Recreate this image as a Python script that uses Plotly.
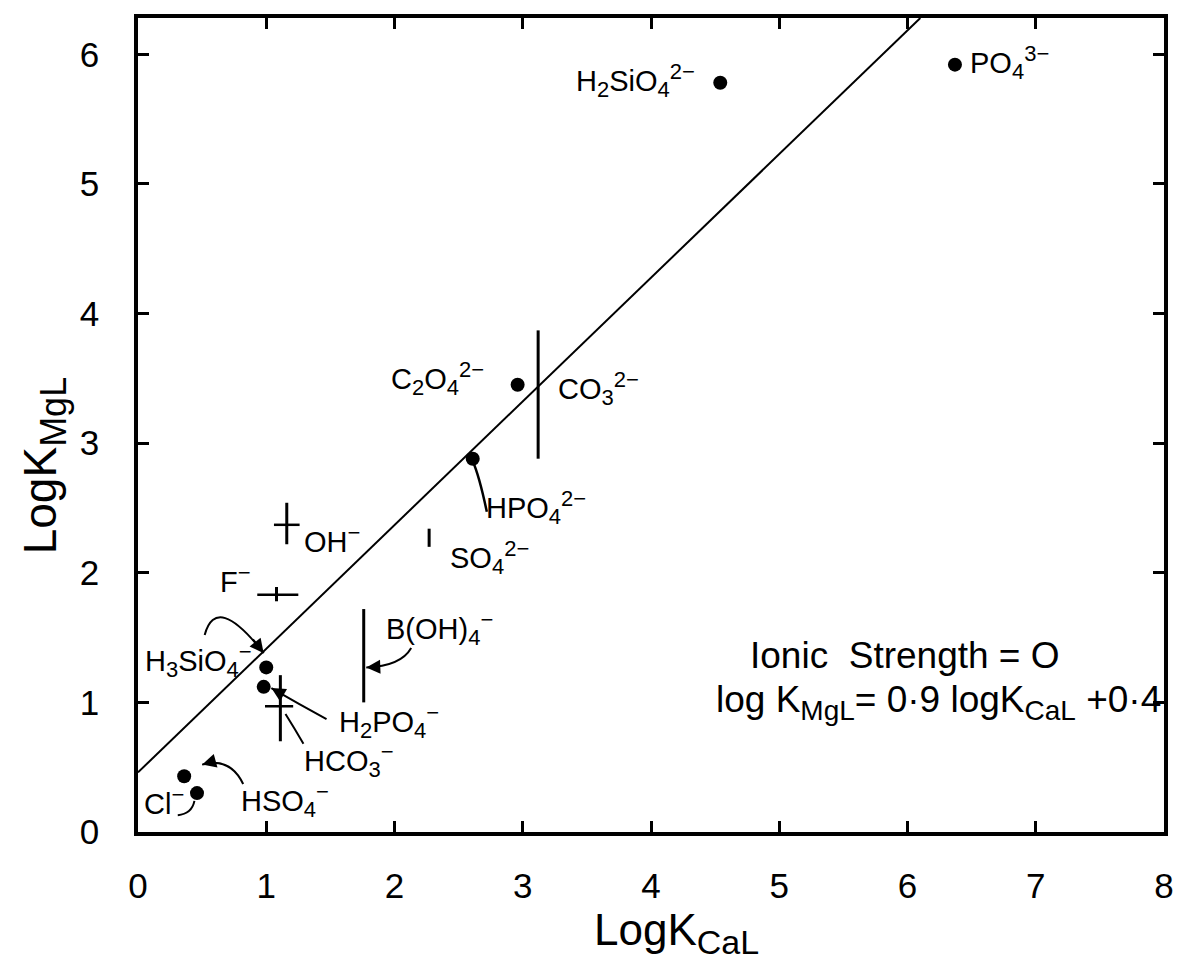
import plotly.graph_objects as go

# ---- data ----
dot_labels = ["H2SiO4", "PO4", "C2O4", "HPO4", "H3SiO4", "H2PO4", "HSO4", "Cl"]
dot_x = [4.54, 6.37, 2.96, 2.61, 1.00, 0.98, 0.36, 0.46]
dot_y = [5.78, 5.92, 3.45, 2.88, 1.27, 1.12, 0.43, 0.30]

rng_labels = ["CO3", "OH", "F", "SO4", "B(OH)4", "HCO3"]
rng_xc = [3.12, 1.16, 1.08, 2.27, 1.76, 1.11]
rng_xlo = [3.12, 1.06, 0.93, 2.27, 1.76, 0.99]
rng_xhi = [3.12, 1.26, 1.25, 2.27, 1.76, 1.21]
rng_yc = [3.38, 2.37, 1.83, 2.27, 1.36, 0.97]
rng_ylo = [2.88, 2.22, 1.78, 2.20, 1.00, 0.70]
rng_yhi = [3.87, 2.54, 1.89, 2.34, 1.72, 1.21]

fit_x = [0.0, 6.10]
fit_y = [0.46, 6.28]


def sb(s, size=22):
    return f"<sub><span style='font-size:{size}px'>{s}</span></sub>"


def sp(s, size=22):
    return f"<sup><span style='font-size:{size}px'>{s}</span></sup>"


lab_text = [
    "H" + sb("2") + "SiO" + sb("4") + sp("2−"),
    "PO" + sb("4") + sp("3−"),
    "C" + sb("2") + "O" + sb("4") + sp("2−"),
    "CO" + sb("3") + sp("2−"),
    "HPO" + sb("4") + sp("2−"),
    "SO" + sb("4") + sp("2−"),
    "OH" + sp("−"),
    "F" + sp("−"),
    "H" + sb("3") + "SiO" + sb("4") + sp("−"),
    "B(OH)" + sb("4") + sp("−"),
    "H" + sb("2") + "PO" + sb("4") + sp("−"),
    "HCO" + sb("3") + sp("−"),
    "HSO" + sb("4") + sp("−"),
    "Cl" + sp("−"),
]
lab_x = [4.36, 6.47, 2.71, 3.26, 2.70, 2.42, 1.28, 0.90, 0.04, 1.92, 1.55, 1.28, 0.79, 0.03]
lab_y = [5.80, 5.94, 3.50, 3.42, 2.50, 2.12, 2.26, 1.95, 1.32, 1.57, 0.85, 0.55, 0.24, 0.24]
lab_anchor = ["right", "left", "right", "left", "left", "left", "left", "right",
              "left", "left", "left", "left", "left", "left"]

# connectors: start, control, end, arrowhead?
con_x0 = [2.72, 0.52, 1.47, 1.29, 2.13, 0.82, 0.31]
con_y0 = [2.47, 1.52, 0.87, 0.68, 1.42, 0.37, 0.13]
con_cx = [2.66, 0.61, 1.25, 1.22, 2.05, 0.72, 0.42]
con_cy = [2.75, 1.85, 0.99, 0.80, 1.28, 0.58, 0.14]
con_x1 = [2.61, 0.98, 1.04, 1.15, 1.78, 0.50, 0.44]
con_y1 = [2.86, 1.38, 1.11, 0.91, 1.27, 0.52, 0.24]
con_arrow = [False, True, True, True, True, True, False]

x_ticks = [0, 1, 2, 3, 4, 5, 6, 7, 8]
y_ticks = [0, 1, 2, 3, 4, 5, 6]

FONT = "Liberation Sans"

fig = go.Figure()

fig.add_trace(go.Scatter(x=fit_x, y=fit_y, mode="lines",
                         line=dict(color="black", width=2), hoverinfo="skip"))

# range bars
vx, vy, hx, hy = [], [], [], []
for i in range(len(rng_labels)):
    if rng_yhi[i] > rng_ylo[i]:
        vx += [rng_xc[i], rng_xc[i], None]
        vy += [rng_ylo[i], rng_yhi[i], None]
    if rng_xhi[i] > rng_xlo[i]:
        hx += [rng_xlo[i], rng_xhi[i], None]
        hy += [rng_yc[i], rng_yc[i], None]
fig.add_trace(go.Scatter(x=vx, y=vy, mode="lines", line=dict(color="black", width=3),
                         hoverinfo="skip"))
fig.add_trace(go.Scatter(x=hx, y=hy, mode="lines", line=dict(color="black", width=2.5),
                         hoverinfo="skip"))

fig.add_trace(go.Scatter(x=dot_x, y=dot_y, mode="markers",
                         marker=dict(color="black", size=14), text=dot_labels,
                         hoverinfo="text"))

shapes = []
annotations = []
for i in range(len(con_x0)):
    path = f"M {con_x0[i]},{con_y0[i]} Q {con_cx[i]},{con_cy[i]} {con_x1[i]},{con_y1[i]}"
    shapes.append(dict(type="path", path=path, xref="x", yref="y",
                       line=dict(color="black", width=2.5 if i == 0 else 2)))
    if con_arrow[i]:
        tx = con_x1[i] + 0.25 * (con_cx[i] - con_x1[i])
        ty = con_y1[i] + 0.25 * (con_cy[i] - con_y1[i])
        annotations.append(dict(x=con_x1[i], y=con_y1[i], ax=tx, ay=ty,
                                xref="x", yref="y", axref="x", ayref="y",
                                text="", showarrow=True, arrowhead=2,
                                arrowsize=1.4, arrowwidth=2, arrowcolor="black"))

for t, x, y, a in zip(lab_text, lab_x, lab_y, lab_anchor):
    annotations.append(dict(x=x, y=y, xref="x", yref="y", text=t, showarrow=False,
                            xanchor=a, yanchor="middle",
                            font=dict(family=FONT, size=29, color="black")))

annotations.append(dict(x=5.98, y=1.36, xref="x", yref="y", text="Ionic  Strength = O",
                        showarrow=False, xanchor="center", yanchor="middle",
                        font=dict(family=FONT, size=37, color="black")))
annotations.append(dict(x=7.99, y=1.0, xref="x", yref="y",
                        text="log K" + sb("MgL", 28) + "= 0·9 logK" + sb("CaL", 28) + " +0·4",
                        showarrow=False, xanchor="right", yanchor="middle",
                        font=dict(family=FONT, size=37, color="black")))

# axis titles
annotations.append(dict(x=0.525, y=-0.124, xref="paper", yref="paper",
                        text="LogK" + sb("CaL", 34), showarrow=False,
                        xanchor="center", yanchor="middle",
                        font=dict(family=FONT, size=44, color="black")))
annotations.append(dict(x=-0.092, y=0.45, xref="paper", yref="paper",
                        text="LogK" + sb("MgL", 36), showarrow=False, textangle=-90,
                        xanchor="center", yanchor="middle",
                        font=dict(family=FONT, size=46, color="black")))

fig.update_layout(
    width=1186, height=961,
    margin=dict(l=138, r=12, t=18, b=129),
    paper_bgcolor="white", plot_bgcolor="white",
    showlegend=False,
    shapes=shapes, annotations=annotations,
    font=dict(family=FONT, color="black"),
)
axis_common = dict(showgrid=False, zeroline=False, showline=True, linecolor="black",
                   linewidth=3.5, mirror="allticks", ticks="inside", ticklen=11,
                   tickwidth=2.5, tickcolor="black",
                   tickfont=dict(family=FONT, size=35, color="black"))
fig.update_xaxes(range=[0, 8], tickvals=x_ticks, ticklabelstandoff=20, **axis_common)
fig.update_yaxes(range=[0, 6.28], tickvals=y_ticks, ticklabelstandoff=28, **axis_common)

fig.write_html("out.html")
